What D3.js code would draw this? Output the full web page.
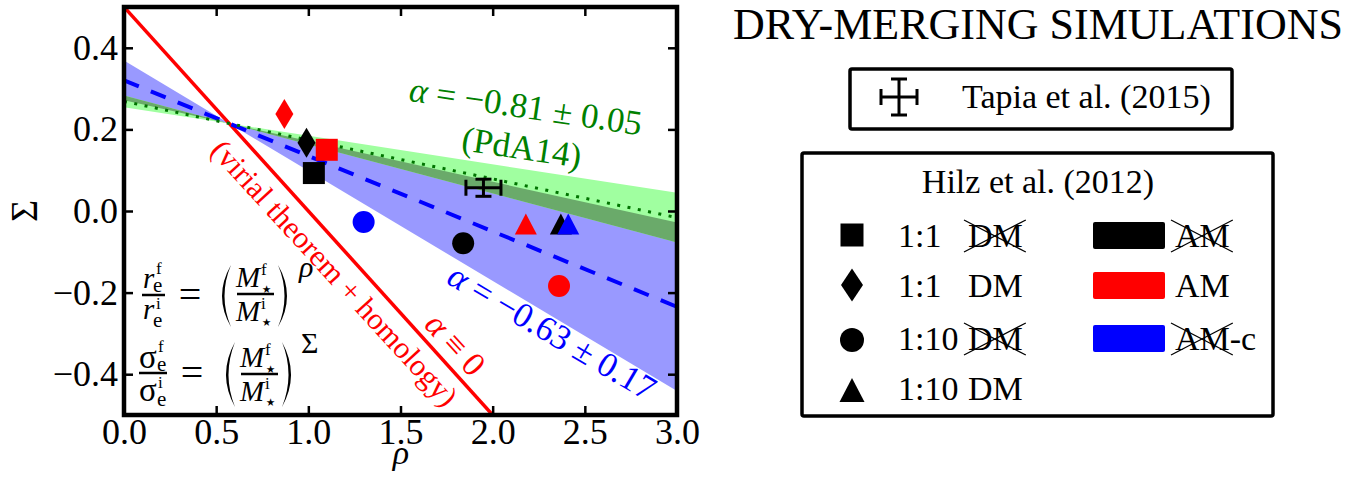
<!DOCTYPE html>
<html>
<head>
<meta charset="utf-8">
<script src="https://cdn.jsdelivr.net/npm/d3@7"></script>
<style>
  body { margin: 0; background: #fff; }
  text { font-family: "Liberation Serif", "Times New Roman", serif; }
</style>
</head>
<body>
<svg id="chart" width="1353" height="481"></svg>
<script>
// ---- data ----
var rhoTicks = [0, 0.5, 1, 1.5, 2, 2.5, 3]
var sigmaTicks = [-0.4, -0.2, 0, 0.2, 0.4]

// Hilz et al. (2012) runs
var simShape = ['square', 'square', 'diamond', 'diamond', 'circle', 'circle', 'circle', 'triangle', 'triangle', 'triangle']
var simColor = ['black', 'red', 'red', 'black', 'blue', 'black', 'red', 'red', 'black', 'blue']
var simRho   = [1.03, 1.10, 0.87, 0.99, 1.30, 1.84, 2.36, 2.18, 2.37, 2.41]
var simSigma = [0.093, 0.150, 0.238, 0.167, -0.027, -0.079, -0.184, -0.032, -0.032, -0.032]

// Tapia et al. (2015)
var tapiaRho = [1.95]
var tapiaSigma = [0.057]
var tapiaRhoErr = [0.095]
var tapiaSigmaErr = [0.021]

// alpha fits : this work (blue) and PdA14 (green); alpha = 0 is the virial line
var fitAlpha = [-0.63, -0.81]
var fitAlphaErr = [0.17, 0.05]
var pivotRho = 0.571

// legend
var legShapes = ['square', 'diamond', 'circle', 'triangle']
var legRatio = ['1:1', '1:1', '1:10', '1:10']
var legDM = ['DM', 'DM', 'DM', 'DM']
var legDMcrossed = [true, false, true, false]
var legColors = ['black', 'red', 'blue']
var legOrbit = ['AM', 'AM', 'AM']
var legOrbitSuffix = ['', '', '-c']
var legOrbitCrossed = [true, false, true]

// ---- setup ----
var svg = d3.select('#chart')
var x = d3.scaleLinear().domain([0, 3]).range([124, 677])
var y = d3.scaleLinear().domain([-0.5, 0.5]).range([415, 7])

function lineSigma(alpha, rho) {
  return (1 - pivotRho) / 2 - (1 + alpha) / 2 * (rho - pivotRho)
}
var rhoEdges = [0, pivotRho, 3]

svg.append('clipPath').attr('id', 'plotclip')
  .append('rect')
  .attr('x', x(0)).attr('y', y(0.5))
  .attr('width', x(3) - x(0)).attr('height', y(-0.5) - y(0.5))

var plot = svg.append('g').attr('clip-path', 'url(#plotclip)')

function band(aLo, aHi) {
  return d3.area()
    .x(function (r) { return x(r) })
    .y0(function (r) { return y(Math.min(lineSigma(aLo, r), lineSigma(aHi, r))) })
    .y1(function (r) { return y(Math.max(lineSigma(aLo, r), lineSigma(aHi, r))) })(rhoEdges)
}

// bands
plot.append('path').attr('d', band(fitAlpha[0] - fitAlphaErr[0], fitAlpha[0] + fitAlphaErr[0]))
  .attr('fill', '#9999ff')
plot.append('path').attr('d', band(fitAlpha[1] - fitAlphaErr[1], fitAlpha[1] + fitAlphaErr[1]))
  .attr('fill', '#a0ffa0')
var ovLo = Math.max(fitAlpha[0] - fitAlphaErr[0], fitAlpha[1] - fitAlphaErr[1])
var ovHi = Math.min(fitAlpha[0] + fitAlphaErr[0], fitAlpha[1] + fitAlphaErr[1])
plot.append('path').attr('d', band(ovLo, ovHi)).attr('fill', '#6aaa6a')

// lines
var fitLine = function (alpha) {
  return d3.line()
    .x(function (r) { return x(r) })
    .y(function (r) { return y(lineSigma(alpha, r)) })([0, 3])
}
plot.append('path').attr('d', fitLine(0))
  .attr('stroke', '#ff0000').attr('stroke-width', 3.5).attr('fill', 'none')
plot.append('path').attr('d', fitLine(fitAlpha[0]))
  .attr('stroke', '#0000ff').attr('stroke-width', 4).attr('fill', 'none')
  .attr('stroke-dasharray', '16,13')
plot.append('path').attr('d', fitLine(fitAlpha[1]))
  .attr('stroke', '#007400').attr('stroke-width', 3).attr('fill', 'none')
  .attr('stroke-dasharray', '3,7.5')

// markers
function markerPath(shape, w, h) {
  if (shape == 'square') return 'M' + (-w / 2) + ',' + (-h / 2) + 'h' + w + 'v' + h + 'h' + (-w) + 'Z'
  if (shape == 'diamond') return 'M0,' + (-h / 2) + 'L' + (w / 2) + ',0L0,' + (h / 2) + 'L' + (-w / 2) + ',0Z'
  if (shape == 'triangle') return 'M0,' + (-h / 2) + 'L' + (w / 2) + ',' + (h / 2) + 'L' + (-w / 2) + ',' + (h / 2) + 'Z'
  var p = d3.path(); p.arc(0, 0, w / 2, 0, 2 * Math.PI); return p.toString()
}
var plotSize = { square: [22, 22], diamond: [18, 30], circle: [22, 22], triangle: [22, 21] }
var legSize = { square: [23, 23], diamond: [22, 33], circle: [24, 24], triangle: [25, 24] }

plot.selectAll('.sim')
    .data(d3.range(simRho.length))
    .enter()
  .append('path')
    .attr('class', 'sim')
    .attr('d', function (i) { var s = plotSize[simShape[i]]; return markerPath(simShape[i], s[0], s[1]) })
    .attr('transform', function (i) { return 'translate(' + x(simRho[i]) + ',' + y(simSigma[i]) + ')' })
    .attr('fill', function (i) { return simColor[i] })

// Tapia error bar
function errBar(g, cx, cy, dx, dy, cap) {
  g.append('line').attr('x1', cx - dx).attr('x2', cx + dx).attr('y1', cy).attr('y2', cy)
  g.append('line').attr('x1', cx).attr('x2', cx).attr('y1', cy - dy).attr('y2', cy + dy)
  g.append('line').attr('x1', cx - dx).attr('x2', cx - dx).attr('y1', cy - cap).attr('y2', cy + cap)
  g.append('line').attr('x1', cx + dx).attr('x2', cx + dx).attr('y1', cy - cap).attr('y2', cy + cap)
  g.append('line').attr('x1', cx - cap).attr('x2', cx + cap).attr('y1', cy - dy).attr('y2', cy - dy)
  g.append('line').attr('x1', cx - cap).attr('x2', cx + cap).attr('y1', cy + dy).attr('y2', cy + dy)
}
var tap = plot.append('g').attr('stroke', 'black').attr('stroke-width', 3)
errBar(tap, x(tapiaRho[0]), y(tapiaSigma[0]),
  x(tapiaRho[0] + tapiaRhoErr[0]) - x(tapiaRho[0]),
  y(tapiaSigma[0] - tapiaSigmaErr[0]) - y(tapiaSigma[0]), 8)

// in-plot labels
function rotLabel(cx, cy, ang, color, size, parts) {
  var t = svg.append('text')
    .attr('transform', 'translate(' + cx + ',' + cy + ') rotate(' + ang + ')')
    .attr('text-anchor', 'middle')
    .attr('fill', color)
    .style('font-size', size + 'px')
  parts.forEach(function (p) {
    t.append('tspan').text(p[0]).style('font-style', p[1] ? 'italic' : 'normal')
  })
  return t
}
rotLabel(524, 118, 8.5, '#008000', 35, [['α', true], [' = −0.81 ± 0.05', false]])
rotLabel(520, 159, 8.5, '#008000', 35, [['(PdA14)', false]])
rotLabel(546, 342, 30.5, '#0000ff', 35, [['α', true], [' = −0.63 ± 0.17', false]])
rotLabel(327, 280, 47.5, '#ff0000', 30.5, [['(virial theorem + homology)', false]])
rotLabel(447, 352, 47.5, '#ff0000', 34, [['α', true], [' ≡ 0', false]])

// formulas
function tx(xp, yp, str, size, italic) {
  return svg.append('text').attr('x', xp).attr('y', yp).text(str)
    .style('font-size', size + 'px').style('font-style', italic ? 'italic' : 'normal')
}
function hbar(x1, x2, yp) {
  svg.append('line').attr('x1', x1).attr('x2', x2).attr('y1', yp).attr('y2', yp)
    .attr('stroke', 'black').attr('stroke-width', 2.5)
}
function paren(xa, xm, y1, y2, w) {
  var ym = (y1 + y2) / 2
  svg.append('path')
    .attr('d', 'M' + xa + ',' + y1 + 'Q' + xm + ',' + ym + ' ' + xa + ',' + y2 + 'Q' + (xm + w) + ',' + ym + ' ' + xa + ',' + y1 + 'Z')
    .attr('fill', 'black')
}
function massFrac(x0, bar, top, bot) {
  hbar(x0, x0 + 37, bar)
  tx(x0 - 1, bar - 7, 'M', 29, true)
  tx(x0 + 24, bar - 19, 'f', 17, false)
  tx(x0 + 23, bar + 2, '⋆', 21, false)
  tx(x0 - 1, bar + 27, 'M', 29, true)
  tx(x0 + 24, bar + 15, 'i', 17, false)
  tx(x0 + 23, bar + 35, '⋆', 21, false)
  paren(x0 - 6, x0 - 24, top, bot, 5)
  paren(x0 + 41, x0 + 59, top, bot, -5)
}
// r_e
hbar(142, 165, 295)
tx(143, 288, 'r', 29, true); tx(153, 292, 'e', 21, false); tx(156, 274, 'f', 17, false)
tx(143, 319, 'r', 29, true); tx(153, 327, 'e', 21, false); tx(156, 309, 'i', 17, false)
tx(190, 308, '=', 40, false).attr('text-anchor', 'middle')
massFrac(237, 294, 265, 327)
tx(299, 277, 'ρ', 30, true)
// sigma_e
hbar(139, 167, 373)
tx(139, 368, 'σ', 33, false); tx(157, 371, 'e', 21, false); tx(158, 352, 'f', 17, false)
tx(139, 401, 'σ', 33, false); tx(157, 406, 'e', 21, false); tx(158, 388, 'i', 17, false)
tx(192, 386, '=', 40, false).attr('text-anchor', 'middle')
massFrac(241, 374, 342, 407)
tx(301, 353, 'Σ', 30, false)

// axes
var fmt = function (d) { return d3.format('.1f')(d).replace('-', '−') }
var axB = svg.append('g').attr('transform', 'translate(0,' + y(-0.5) + ')')
  .call(d3.axisBottom(x).tickValues(rhoTicks).tickSize(-9).tickPadding(3).tickFormat(fmt))
var axL = svg.append('g').attr('transform', 'translate(' + x(0) + ',0)')
  .call(d3.axisLeft(y).tickValues(sigmaTicks).tickSize(-9).tickPadding(6).tickFormat(fmt))
var axT = svg.append('g').attr('transform', 'translate(0,' + y(0.5) + ')')
  .call(d3.axisTop(x).tickValues(rhoTicks).tickSize(-9).tickFormat(''))
var axR = svg.append('g').attr('transform', 'translate(' + x(3) + ',0)')
  .call(d3.axisRight(y).tickValues(sigmaTicks).tickSize(-9).tickFormat(''))
;[axB, axL, axT, axR].forEach(function (a) {
  a.select('.domain').remove()
  a.selectAll('.tick line').attr('stroke', 'black').attr('stroke-width', 2.5)
  a.selectAll('.tick text').attr('fill', 'black')
    .style('font-size', '36px').style('font-family', '"Liberation Serif", "Times New Roman", serif')
})
svg.append('rect')
  .attr('x', x(0)).attr('y', y(0.5))
  .attr('width', x(3) - x(0)).attr('height', y(-0.5) - y(0.5))
  .attr('fill', 'none').attr('stroke', 'black').attr('stroke-width', 4.5)

svg.append('text').attr('transform', 'translate(37,211) rotate(-90)')
  .attr('text-anchor', 'middle').style('font-size', '38px').text('Σ')
svg.append('text').attr('x', 401).attr('y', 464)
  .attr('text-anchor', 'middle').style('font-size', '34px').style('font-style', 'italic').text('ρ')

// right panel
svg.append('text').attr('x', 733).attr('y', 39).style('font-size', '44px').text('DRY-MERGING SIMULATIONS')

svg.append('rect').attr('x', 850).attr('y', 69).attr('width', 382).attr('height', 60).attr('rx', 2)
  .attr('fill', 'none').attr('stroke', 'black').attr('stroke-width', 3.5)
var tapLeg = svg.append('g').attr('stroke', 'black').attr('stroke-width', 3)
errBar(tapLeg, 899, 97, 18, 18, 8)
tx(962, 108, 'Tapia et al. (2015)', 34, false)

svg.append('rect').attr('x', 802).attr('y', 153).attr('width', 471).attr('height', 263).attr('rx', 2)
  .attr('fill', 'none').attr('stroke', 'black').attr('stroke-width', 3.5)
tx(1038, 193, 'Hilz et al. (2012)', 34, false).attr('text-anchor', 'middle')

function crossOut(textSel, base) {
  var b = textSel.node().getBBox()
  var g = svg.append('g').attr('stroke', 'black').attr('stroke-width', 1.3)
  g.append('line').attr('x1', b.x - 4).attr('y1', base - 27).attr('x2', b.x + b.width + 3).attr('y2', base + 5)
  g.append('line').attr('x1', b.x - 4).attr('y1', base + 5).attr('x2', b.x + b.width + 3).attr('y2', base - 27)
}

var rowBase = [247, 297, 350, 400]
var rowMid = [235, 285, 340, 390]
legShapes.forEach(function (s, i) {
  var sz = legSize[s]
  svg.append('path').attr('d', markerPath(s, sz[0], sz[1]))
    .attr('transform', 'translate(852,' + rowMid[i] + ')').attr('fill', 'black')
  tx(898, rowBase[i], legRatio[i], 34, false)
  var dm = tx(968, rowBase[i], legDM[i], 34, false)
  if (legDMcrossed[i]) crossOut(dm, rowBase[i])
})
legColors.forEach(function (c, i) {
  svg.append('rect').attr('x', 1093).attr('y', rowBase[i] - 25).attr('width', 72).attr('height', 27)
    .attr('rx', 2).attr('fill', c)
  var am = tx(1175, rowBase[i], legOrbit[i], 34, false)
  if (legOrbitCrossed[i]) crossOut(am, rowBase[i])
  if (legOrbitSuffix[i]) {
    var b = am.node().getBBox()
    tx(b.x + b.width, rowBase[i], legOrbitSuffix[i], 34, false)
  }
})
</script>
</body>
</html>
